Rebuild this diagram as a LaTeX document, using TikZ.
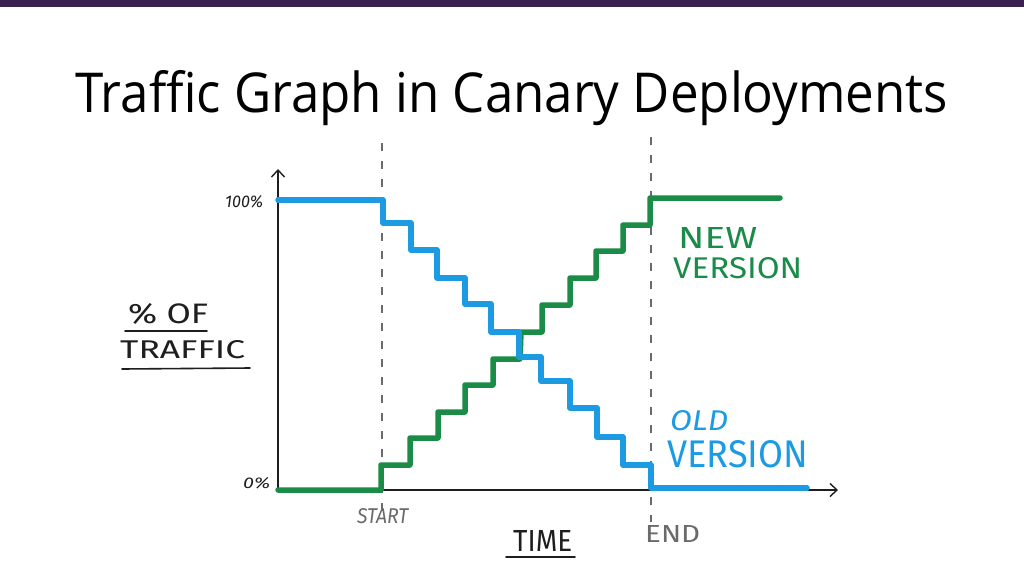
\documentclass[tikz,border=0pt]{standalone}
\usepackage{fontspec}
\setmainfont{Fira Sans}
\newfontfamily\titlefont{Open Sans}
\usetikzlibrary{arrows.meta}
\definecolor{barpurple}{HTML}{3B2150}
\definecolor{oldblue}{HTML}{1C9BE2}
\definecolor{newgreen}{HTML}{1A8C47}
\definecolor{inkgray}{HTML}{6A6A6A}
\definecolor{ink}{HTML}{1E1E1E}
\newcommand{\fitbox}[3]{\resizebox{#1pt}{#2pt}{#3}}
\tikzset{
  curve/.style={line width=5.5pt, line join=round, line cap=round},
  axisline/.style={line width=1.6pt, draw=ink, -{Straight Barb[length=7pt,width=13pt,line width=1.4pt]}},
  guide/.style={line width=1.4pt, draw=inkgray, dash pattern=on 8pt off 10pt},
  lbl/.style={inner sep=0pt, anchor=north west},
}
\begin{document}
\begin{tikzpicture}[x=1pt,y=-1pt]
\useasboundingbox (0,0) rectangle (1024,576);
\fill[white] (0,0) rectangle (1024,576);
% top bar
\fill[barpurple] (0,0) rectangle (1024,7);
% title
\node[inner sep=0pt, anchor=base west] (title) at (75,112)
  {\resizebox{873pt}{\height}{\titlefont\fontsize{55}{60}\selectfont Traffic Graph in Canary Deployments}};
% guides
\coordinate (s1) at (382,143); \coordinate (s2) at (382,516);
\coordinate (e1) at (651,137); \coordinate (e2) at (651,522);
\draw[guide] (s1) -- (s2);
\draw[guide] (e1) -- (e2);
% axes
\coordinate (O) at (278,490);
\coordinate (Ytop) at (278,169);
\coordinate (Xend) at (838,490);
\draw[axisline] (O) -- (Ytop);
\draw[axisline] (O) -- (Xend);
% green (new version)
\draw[curve, newgreen] (278,490) -- (381,490) -- (381,465) -- (410,465) -- (410,438) -- (438,438) -- (438,412) -- (465,412) -- (465,385) -- (493,385) -- (493,359) -- (520,359) -- (521,332) -- (542,332) -- (542,305) -- (570,305) -- (570,278) -- (596,278) -- (596,251) -- (623,251) -- (623,225) -- (650,225) -- (650,198) -- (780,198);
% blue (old version)
\draw[curve, oldblue] (278,200) -- (383,200) -- (383,223) -- (411,223) -- (411,250) -- (437,250) -- (437,278) -- (465,278) -- (465,304) -- (491,304) -- (491,332) -- (519,332) -- (519,357) -- (541,357) -- (541,381) -- (570,381) -- (570,408) -- (597,408) -- (597,437) -- (623,437) -- (623,465) -- (651,465) -- (651,488) -- (807,488);
% axis labels
\node[lbl] (p100) at (225,195) {\color{ink}\fitbox{38}{12}{\itshape 100\%}};
\node[lbl] (p0) at (243,477) {\color{ink}\fitbox{27}{11}{\itshape 0\%}};
\node[lbl] (pof) at (128,303) {\color{ink}\fitbox{80}{20}{\% OF}};
\node[lbl] (traffic) at (120,340) {\color{ink}\fitbox{125}{18}{TRAFFIC}};
\draw[ink, line width=1.6pt, line cap=round] (125,331) -- (207,331);
\draw[ink, line width=1.6pt, line cap=round] (122,369) -- (250,368);
\node[lbl] (start) at (357,508) {\color{inkgray}\fitbox{51}{15}{\itshape START}};
\node[lbl] (end) at (645,525) {\color{inkgray}\fitbox{55}{17}{END}};
\node[lbl] (time) at (513,530) {\color{ink}\fitbox{59}{21}{TIME}};
\draw[ink, line width=1.6pt, line cap=round] (506,557) -- (575,557);
% series labels
\node[lbl] (new) at (678,227) {\color{newgreen}\fitbox{79}{21}{NEW}};
\node[lbl] (newv) at (673,257) {\color{newgreen}\fitbox{129}{21}{VERSION}};
\node[lbl] (old) at (670,410) {\color{oldblue}\fitbox{58}{20}{\itshape OLD}};
\node[lbl] (oldv) at (667,440) {\color{oldblue}\fitbox{141}{27}{VERSION}};
\end{tikzpicture}
\end{document}
